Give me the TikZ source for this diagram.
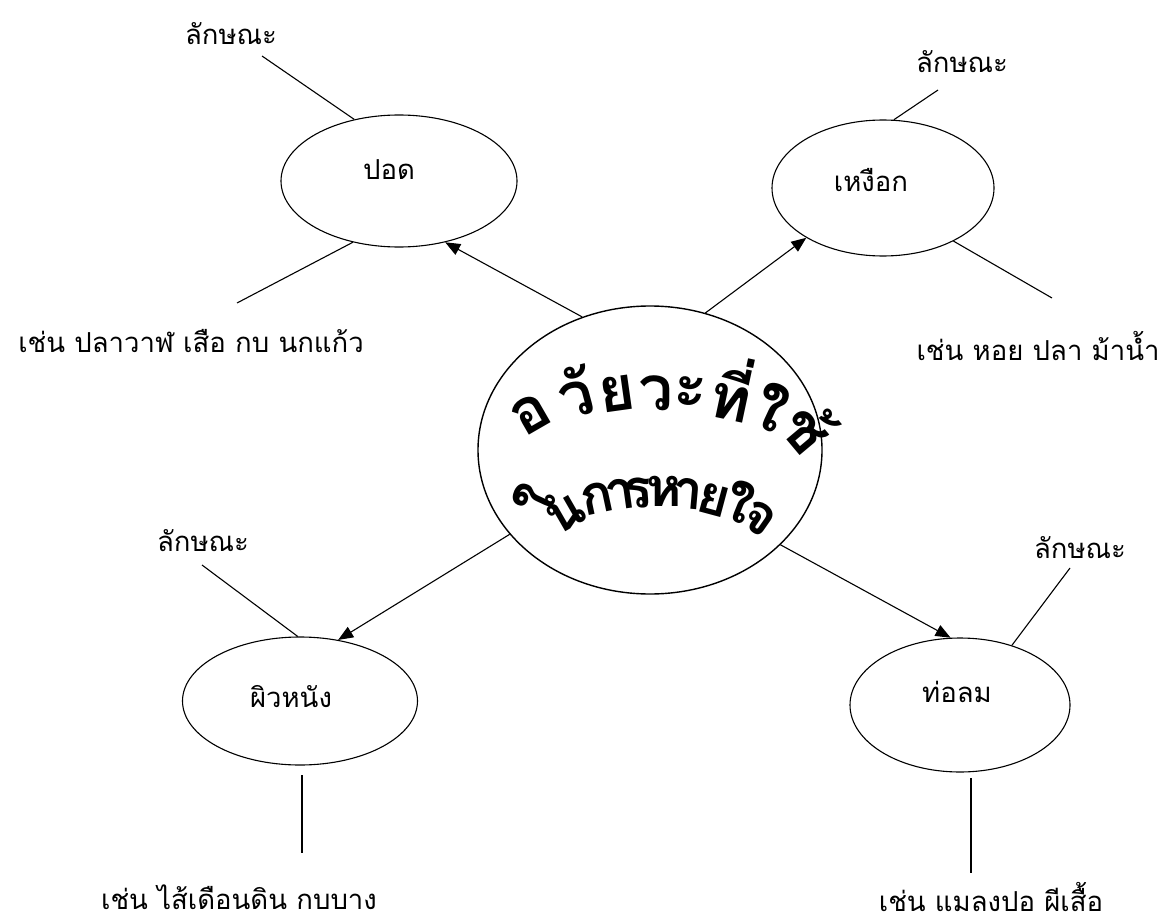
\documentclass[tikz,border=0pt]{standalone}
\usepackage{fontspec}
\usetikzlibrary{arrows.meta,shapes.geometric,calc}
\newfontfamily\thaifont[Script=Thai]{Loma}
\newcommand\bigglyph[6]{\node[#6, rotate=#3] (#5) at ($(#1,#2)+({15*sin(#3)},{15*cos(#3)})$) {#4};}
\begin{document}
\begin{tikzpicture}[x=1pt,y=-1pt,
  oval/.style={draw, ellipse, inner sep=0pt, line width=1.1pt},
  lbl/.style={font=\thaifont\fontsize{27.5}{32}\selectfont, inner sep=0pt},
  conn/.style={line width=1.1pt},
  arr/.style={line width=1.1pt, -{Triangle[length=15pt,width=12pt]}},
  bigup/.style={font=\thaifont\bfseries\fontsize{62}{66}\selectfont, inner sep=0pt, anchor=base},
  biglow/.style={font=\thaifont\bfseries\fontsize{54}{58}\selectfont, inner sep=0pt, anchor=base}
]
\useasboundingbox[fill=white] (0,0) rectangle (1167,923);

% ellipses
\node[oval, line width=1.4pt, minimum width=344pt, minimum height=288pt] (core) at (650,450) {};
\node[oval, minimum width=236pt, minimum height=132pt] (lung) at (399,181) {};
\node[oval, minimum width=222pt, minimum height=136pt] (gill) at (883,188) {};
\node[oval, minimum width=235pt, minimum height=128pt] (skin) at (300,701) {};
\node[oval, minimum width=220pt, minimum height=134pt] (trach) at (960,705) {};

% ellipse texts
\node[lbl] (lungt) at (389,170) {ปอด};
\node[lbl] (gillt) at (871,180) {เหงือก};
\node[lbl] (skint) at (291,697) {ผิวหนัง};
\node[lbl] (tracht) at (957,692) {ท่อลม};

% arrows
\draw[arr] (core.117.9) -- (lung.-53.9);
\draw[arr] (core.68.5) -- (gill.213.2);
\draw[arr] (core.211.3) -- (skin.58);
\draw[arr] (core.-36) -- (trach.98.4);

% labels
\node[lbl] (tlc) at (231,34) {ลักษณะ};
\node[lbl] (trc) at (962,62) {ลักษณะ};
\node[lbl] (blc) at (203,541) {ลักษณะ};
\node[lbl] (brc) at (1080,548) {ลักษณะ};
\node[lbl] (ex1) at (191,341) {เช่น ปลาวาฬ เสือ กบ นกแก้ว};
\node[lbl] (ex2) at (1038,346) {เช่น หอย ปลา ม้าน้ำ};
\node[lbl] (ex3) at (239,897) {เช่น ไส้เดือนดิน กบบาง};
\node[lbl] (ex4) at (991,897) {เช่น แมลงปอ ผีเสื้อ};

% free ends
\coordinate (tl1) at (262,56);
\coordinate (l2) at (237,303);
\coordinate (tr1) at (938,90);
\coordinate (tr2) at (1052,298);
\coordinate (bl1) at (202,565);
\coordinate (bl2a) at (302,775);
\coordinate (bl2b) at (302,853);
\coordinate (br1) at (1070,568);
\coordinate (br2a) at (971,778);
\coordinate (br2b) at (971,873);

\draw[conn] (tl1) -- (lung.126);
\draw[conn] (lung.-127.4) -- (l2);
\draw[conn] (tr1) -- (gill.81.4);
\draw[conn] (gill.-37) -- (tr2);
\draw[conn] (bl1) -- (skin.92);
\draw[conn] (bl2a) -- (bl2b);
\draw[conn] (br1) -- (trach.49);
\draw[conn] (br2a) -- (br2b);

% curved title, upper arc
\bigglyph{532}{416}{30}{อ}{u1}{bigup}
\bigglyph{577}{402}{15}{วั}{u2}{bigup}
\bigglyph{617}{396}{8}{ย}{u3}{bigup}
\bigglyph{656}{395}{0}{ว}{u4}{bigup}
\bigglyph{690}{393}{-5}{ะ}{u5}{bigup}
\bigglyph{730}{405}{-12}{ที่}{u6}{bigup}
\bigglyph{768}{414}{-25}{ใ}{u7}{bigup}
\bigglyph{802}{434}{-50}{ช้}{u8}{bigup}
% lower arc
\bigglyph{538}{502}{65}{ใ}{d1}{biglow}
\bigglyph{566}{514}{30}{น}{d2}{biglow}
\bigglyph{597}{498}{12}{ก}{d3}{biglow}
\bigglyph{620}{495}{8}{า}{d4}{biglow}
\bigglyph{638}{493}{5}{ร}{d5}{biglow}
\bigglyph{664}{491}{0}{ห}{d6}{biglow}
\bigglyph{688}{494}{-5}{า}{d7}{biglow}
\bigglyph{714}{500}{-15}{ย}{d8}{biglow}
\bigglyph{737}{507}{-22}{ใ}{d9}{biglow}
\bigglyph{759}{518}{-35}{จ}{d10}{biglow}
\end{tikzpicture}
\end{document}
